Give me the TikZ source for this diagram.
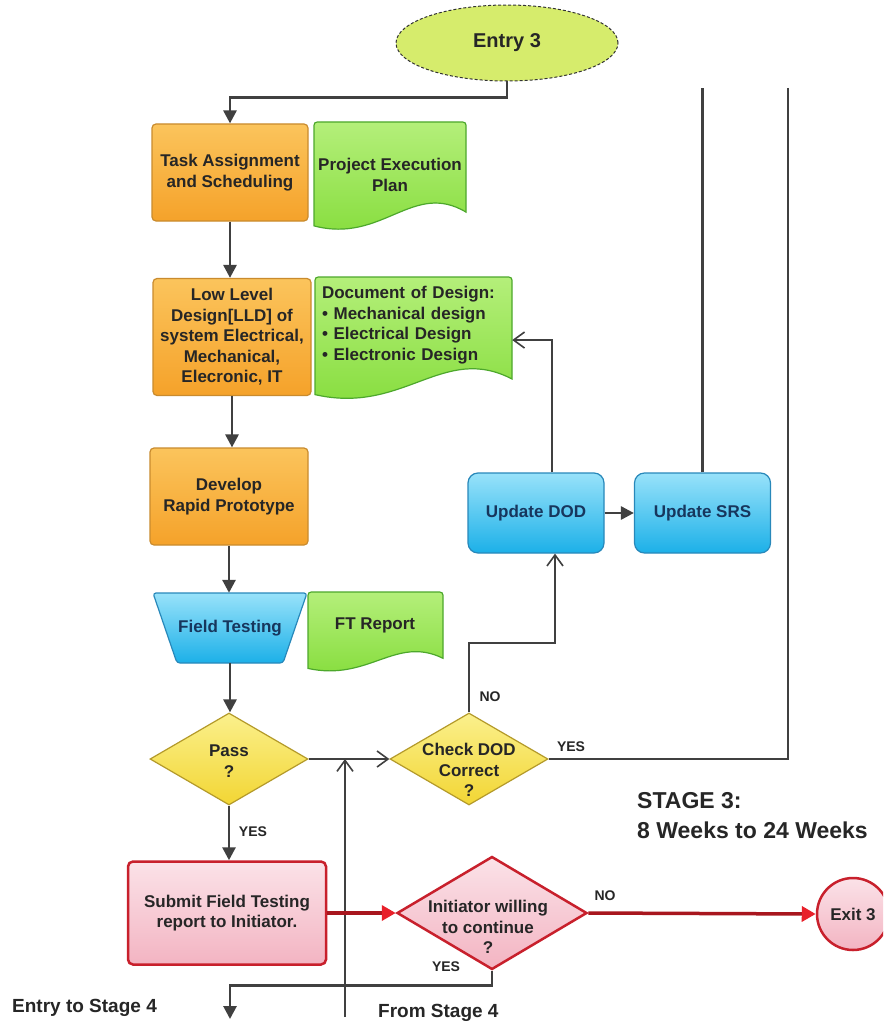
\documentclass[tikz,border=0pt]{standalone}
\usepackage{fontspec}
\setmainfont{Liberation Sans}
\usetikzlibrary{arrows.meta,shapes.geometric,calc}
\definecolor{orgA}{HTML}{FBC45C}
\definecolor{orgB}{HTML}{F5A22A}
\definecolor{orgD}{HTML}{C98B2E}
\definecolor{grnA}{HTML}{B4EF7A}
\definecolor{grnB}{HTML}{84DC3A}
\definecolor{grnD}{HTML}{4DA82C}
\definecolor{bluA}{HTML}{98E2FA}
\definecolor{bluB}{HTML}{1CB0E8}
\definecolor{bluD}{HTML}{2888BA}
\definecolor{yelA}{HTML}{FBF08C}
\definecolor{yelB}{HTML}{F2D634}
\definecolor{yelD}{HTML}{B49A2A}
\definecolor{pnkA}{HTML}{FBE2E8}
\definecolor{pnkB}{HTML}{F3B4C2}
\definecolor{redD}{HTML}{C8202C}
\definecolor{redL}{HTML}{A8161E}
\definecolor{redT}{HTML}{E8202A}
\definecolor{lineC}{HTML}{404040}
\definecolor{txtC}{HTML}{262626}
\definecolor{txtB}{HTML}{17365D}
\definecolor{entF}{HTML}{D6EC6C}
\newcommand\docshape[4]{%
  \pgfmathsetmacro\dw{#3-#1}\pgfmathsetmacro\dh{#4-#2}%
  \path[docsty] (#1,#4-0.02*\dh) -- (#1,#2+7) .. controls (#1,#2) .. (#1+7,#2)
    -- (#3-7,#2) .. controls (#3,#2) .. (#3,#2+7) -- (#3,#4-0.15*\dh)
    .. controls (#3-0.35*\dw,#4-0.45*\dh) and (#1+0.45*\dw,#4+0.15*\dh) .. (#1,#4-0.02*\dh) -- cycle;}
\begin{document}
\begin{tikzpicture}[x=1pt,y=-1pt,
  txt/.style={font=\bfseries\fontsize{17}{20.5}\selectfont, text=txtC, align=center, inner sep=0pt},
  orgbox/.style={txt, rectangle, rounded corners=4, draw=orgD, line width=1.2, top color=orgA, bottom color=orgB},
  blubox/.style={txt, text=txtB, rectangle, rounded corners=10, draw=bluD, line width=1.2, top color=bluA, bottom color=bluB, minimum width=136, minimum height=80},
  redbox/.style={txt, rectangle, rounded corners=5, draw=redD, line width=2.5, top color=pnkA, bottom color=pnkB},
  dia/.style={diamond, draw=yelD, line width=1.2, top color=yelA, bottom color=yelB, inner sep=0pt},
  reddia/.style={diamond, draw=redD, line width=2.5, top color=pnkA, bottom color=pnkB, inner sep=0pt},
  docsty/.style={draw=grnD, line width=1.2, top color=grnA, bottom color=grnB},
  blusty/.style={draw=bluD, line width=1.2, top color=bluA, bottom color=bluB},
  flow/.style={draw=lineC, line width=2.8, -{Triangle[width=13pt,length=13pt]}},
  flowopen/.style={draw=lineC, line width=2.8, -{Straight Barb[width=16pt,length=11pt,line width=1.6pt]}},
  plain/.style={draw=lineC, line width=2.8},
  redflow/.style={draw=redL, line width=3.5, -{Triangle[width=15pt,length=14pt,color=redT]}},
  lbl/.style={font=\bfseries\fontsize{14}{16}\selectfont, text=txtC, inner sep=0pt},
  big/.style={font=\bfseries\fontsize{19}{22}\selectfont, text=txtC, inner sep=0pt},
]
\clip (0,0) rectangle (883,1027);
\fill[white] (0,0) rectangle (883,1027);

% entry
\node[ellipse, draw=black!80, densely dashed, line width=1, fill=entF, minimum width=222, minimum height=76,
  font=\bfseries\fontsize{20}{24}\selectfont, text=txtC] (entry) at (507,43) {Entry 3};

% left column
\node[orgbox, minimum width=156, minimum height=97] (task) at (230,172.5) {Task Assignment\\and Scheduling};
\docshape{314}{122}{466}{228}
\node[txt, minimum width=152, minimum height=90] (pep) at (390,175) {Project Execution\\Plan};

\node[orgbox, minimum width=158, minimum height=117] (lld) at (232,337) {Low Level\\Design[LLD] of\\system Electrical,\\Mechanical,\\Elecronic, IT};
\docshape{315}{277}{512}{397}
\node[txt, align=left, text width=183, inner xsep=7, minimum width=197, minimum height=96] (dodoc) at (413.5,325)
  {Document of Design:\\\textbullet\ Mechanical design\\\textbullet\ Electrical Design\\\textbullet\ Electronic Design};

\node[orgbox, minimum width=158, minimum height=97] (dev) at (229,496.5) {Develop\\Rapid Prototype};

\path[blusty, rounded corners=3] (153,593) -- (307,593) -- (283,663) -- (177,663) -- cycle;
\node[txt, text=txtB, minimum width=154, minimum height=70] (ft) at (230,628) {Field Testing};
\docshape{308}{592}{443}{670}
\node[txt, minimum width=135, minimum height=60] (ftr) at (375,625) {FT Report};

% decisions
\node[dia, minimum width=158, minimum height=92] (pass) at (229,759) {};
\node[txt] (passt) at (229,761) {Pass\\?};
\node[dia, minimum width=158, minimum height=92] (check) at (469,759) {};
\node[txt] (checkt) at (469,770) {Check DOD\\Correct\\?};

% update boxes
\node[blubox] (udod) at (536,513) {Update DOD};
\node[blubox] (usrs) at (702.5,513) {Update SRS};

% bottom
\node[redbox, minimum width=198, minimum height=103] (submit) at (227,913) {Submit Field Testing\\report to Initiator.};
\node[reddia, minimum width=190, minimum height=113] (init) at (492,913) {};
\node[txt] (initt) at (488,927) {Initiator willing\\to continue\\?};
\node[circle, draw=redD, line width=2.5, top color=pnkA, bottom color=pnkB, minimum size=72, txt] (exit) at (853,914) {Exit 3};

% texts
\node[font=\bfseries\fontsize{23}{30}\selectfont, text=txtC, align=left, anchor=north west, inner sep=0pt] (stage) at (637,792) {STAGE 3:\\8 Weeks to 24 Weeks};
\node[big, anchor=west] (e4t) at (12,1008) {Entry to Stage 4};
\node[big, anchor=west] (f4t) at (378,1013) {From Stage 4};

% labels
\node[lbl] (yes1) at (253,832) {YES};
\node[lbl] (no1) at (490,697) {NO};
\node[lbl] (yes2) at (571,747) {YES};
\node[lbl] (yes3) at (446,967) {YES};
\node[lbl] (no2) at (605,896) {NO};

% coordinates for free ends
\coordinate (nob) at (555,643);
\coordinate (srstop) at (702.5,88);
\coordinate (rtop) at (788,88);
\coordinate (fs4) at (345,1017);
\coordinate (e4) at (230,1019);

% connectors
\draw[flow] (entry.south) -- ++(0,16) -| (task.north);
\draw[flow] (task.south) -- (task.south |- lld.north);
\draw[flow] (lld.south) -- (lld.south |- dev.north);
\draw[flow] (dev.south) -- (dev.south |- ft.north);
\draw[flow] (ft.south) -- (ft.south |- pass.north);
\draw[flow] (pass.south) -- (pass.south |- submit.north);
\draw[flowopen] (pass.east) -- (check.west);
\draw[flowopen] (fs4) -- (fs4 |- pass.east);
\draw[flowopen] (check.north) |- (nob) -- (nob |- udod.south);
\draw[flowopen] ($(udod.north)+(16,0)$) |- ($(dodoc.south east)!0.344!(dodoc.north east)$);
\draw[flow] (udod.east) -- (usrs.west);
\draw[plain] (usrs.north) -- (srstop);
\draw[plain] (rtop) |- (check.east);
\draw[redflow] (submit.east) -- (init.west);
\draw[redflow] (init.east) -- (exit.west);
\draw[flow] (init.south) -- ++(0,15) -| (e4);
\end{tikzpicture}
\end{document}
